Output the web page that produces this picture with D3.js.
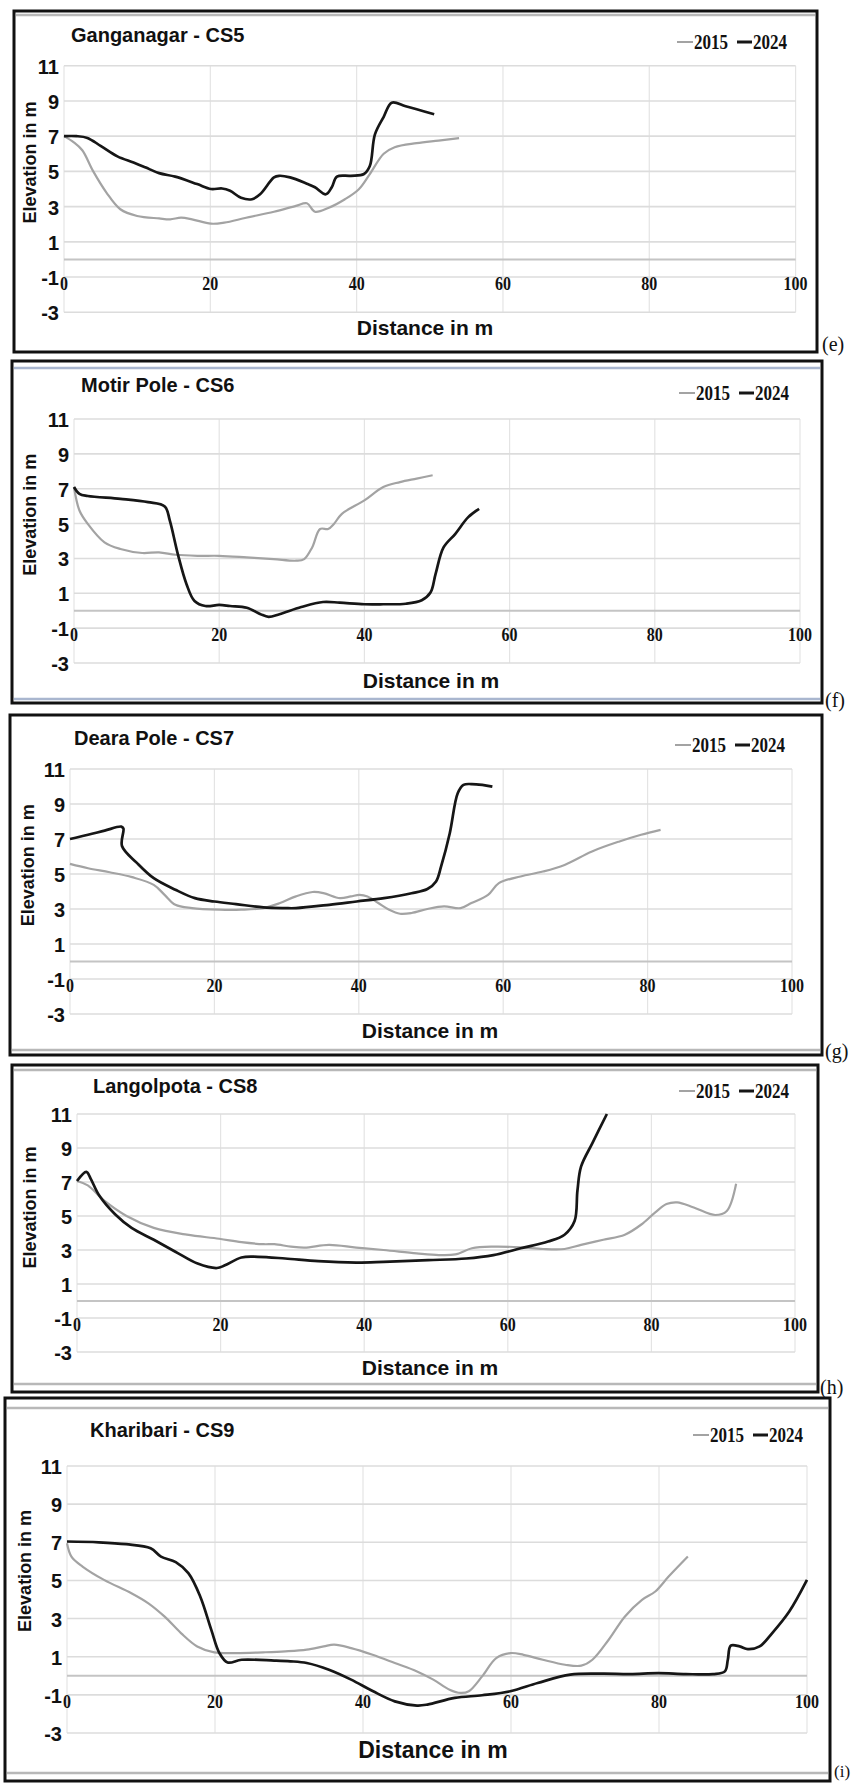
<!DOCTYPE html>
<html>
<head>
<meta charset="utf-8">
<script src="https://cdn.jsdelivr.net/npm/d3@7"></script>
<style>
  body { margin: 0; background: #fff; }
  svg { display: block; }
</style>
</head>
<body>
<div id="container"></div>
<script>
// chart data: [distance m, elevation m]
var titles = ["Ganganagar - CS5", "Motir Pole - CS6", "Deara Pole - CS7", "Langolpota - CS8", "Kharibari - CS9"];
var panelTags = ["(e)", "(f)", "(g)", "(h)", "(i)"];
var years = ["2015", "2024"];
var xTicks = [0, 20, 40, 60, 80, 100];
var yTicks = [11, 9, 7, 5, 3, 1, -1, -3];

var cs5_2015 = [[0,7.0],[1.3,6.66],[2.5,6.2],[4,5.0],[5.8,3.8],[7.7,2.85],[10,2.47],[13,2.33],[14.5,2.28],[16,2.37],[17.5,2.28],[20.1,2.03],[21.9,2.09],[24.9,2.37],[28.7,2.71],[31.7,3.04],[33.2,3.19],[34.3,2.71],[36.2,2.94],[38.4,3.42],[40.3,3.99],[41.8,4.85],[43.7,6.0],[45.2,6.37],[48.2,6.6],[51.2,6.75],[54.0,6.89]];
var cs5_2024 = [[0,7.0],[1.7,7.0],[3.2,6.9],[5,6.45],[7.3,5.85],[9.5,5.5],[11.1,5.23],[13,4.9],[15.2,4.7],[18.2,4.28],[20.1,4.0],[21.6,4.03],[22.7,3.9],[24.2,3.5],[25.7,3.42],[26.8,3.7],[28.7,4.66],[29.4,4.75],[30.9,4.66],[33.2,4.3],[34.3,4.1],[35.8,3.7],[36.6,4.1],[37.3,4.7],[39.2,4.75],[41.0,4.85],[41.8,5.3],[42.5,7.1],[43.7,8.1],[44.8,8.9],[46.7,8.7],[50.6,8.24]];

var cs6_2015 = [[0,7.1],[0.75,5.75],[1.9,4.98],[4.2,3.92],[6.4,3.54],[9.4,3.31],[11.7,3.35],[14,3.21],[17,3.15],[20,3.15],[23.8,3.06],[27.5,2.96],[30.6,2.87],[31.7,2.96],[32.8,3.63],[33.9,4.69],[35,4.69],[35.8,4.98],[36.9,5.56],[40,6.33],[42.6,7.1],[44.9,7.38],[47.2,7.58],[49.4,7.77]];
var cs6_2024 = [[0,7.1],[0.75,6.7],[1.9,6.58],[6.4,6.42],[10.2,6.23],[12.5,5.98],[13.2,5.17],[14.3,3.25],[15.5,1.52],[16.6,0.56],[18.1,0.27],[20,0.33],[21.5,0.27],[23.8,0.17],[25.7,-0.2],[26.8,-0.35],[28.3,-0.2],[31.3,0.21],[34.3,0.5],[36.6,0.46],[40,0.37],[42.6,0.37],[45.7,0.4],[47.9,0.6],[49.1,1.04],[49.8,2.1],[50.9,3.63],[52.5,4.4],[54.3,5.37],[55.8,5.85]];

var cs7_2015 = [[0,5.58],[2.5,5.33],[5.5,5.1],[8.6,4.82],[11.6,4.38],[13.1,3.81],[14.6,3.24],[16.9,3.05],[20.7,2.96],[23.7,2.96],[26.8,3.05],[29.1,3.34],[31.3,3.72],[33.6,3.97],[35.1,3.91],[37.4,3.62],[38.9,3.72],[40.1,3.81],[41.2,3.72],[42.7,3.34],[44.2,2.96],[45.7,2.73],[47.3,2.77],[49.5,3.0],[51.8,3.15],[54.1,3.05],[55.6,3.34],[57.9,3.81],[59.4,4.48],[62.4,4.86],[65.5,5.14],[68.5,5.52],[72.3,6.29],[76.1,6.86],[79.1,7.24],[81.8,7.52]];
var cs7_2024 = [[0,7.0],[2.5,7.24],[4.8,7.48],[7.1,7.71],[7.4,7.6],[7.2,6.6],[9.3,5.62],[11.6,4.76],[14.6,4.1],[17.3,3.62],[20,3.43],[23,3.28],[26.8,3.09],[29.8,3.05],[31.3,3.05],[35.9,3.24],[39.7,3.43],[43.5,3.62],[47.3,3.9],[49.5,4.14],[50.7,4.57],[51.4,5.43],[52.6,7.33],[53.7,9.61],[54.5,10.09],[55.6,10.14],[57.1,10.09],[58.5,9.99]];

var cs8_2015 = [[0,7.06],[1.5,6.8],[3.8,5.9],[6.9,5.0],[10.7,4.3],[15.3,3.9],[19.8,3.66],[22.9,3.46],[26,3.34],[27.5,3.34],[29.8,3.2],[31.7,3.14],[35.1,3.3],[38.9,3.14],[42.7,3.0],[47.3,2.8],[50.4,2.7],[52.7,2.74],[55,3.1],[58,3.2],[61.8,3.16],[64.9,3.06],[67.9,3.06],[70.2,3.3],[73.3,3.6],[76.3,3.9],[78.6,4.5],[80.5,5.2],[82.1,5.7],[83.6,5.8],[85.9,5.5],[88.9,5.06],[90.5,5.3],[91.8,6.9]];
var cs8_2024 = [[0,7.06],[1.3,7.6],[1.9,7.2],[3.1,6.2],[5.3,5.1],[7.6,4.3],[10.7,3.6],[13.7,2.9],[16.8,2.2],[19.5,1.94],[20.6,2.1],[22.9,2.56],[25.2,2.6],[29,2.5],[33.6,2.34],[38.9,2.26],[42.7,2.3],[48.9,2.4],[54.2,2.5],[58,2.7],[61.8,3.1],[65.6,3.5],[67.9,3.9],[69.3,4.7],[69.7,6.5],[70.2,7.9],[71.8,9.3],[73.8,11]];

var cs9_2015 = [[0,6.95],[0.6,6.25],[2.1,5.73],[5,5.03],[8.7,4.33],[11,3.8],[13.2,3.1],[15.4,2.24],[17.6,1.54],[19.9,1.23],[22.8,1.19],[26.5,1.23],[29.5,1.28],[32.4,1.37],[34.7,1.54],[36.1,1.63],[38.4,1.45],[41.3,1.1],[44.3,0.67],[47.3,0.23],[49.5,-0.2],[51.7,-0.73],[53.2,-0.9],[54.3,-0.81],[56.1,-0.03],[58,0.93],[59.9,1.19],[61.7,1.1],[64.3,0.84],[67.3,0.58],[69.5,0.53],[71,0.84],[73.2,1.89],[75.4,3.11],[77.7,3.98],[79.5,4.42],[81.3,5.2],[83.9,6.25]];
var cs9_2024 = [[0,7.04],[4.3,7.0],[8,6.9],[11.3,6.69],[12.7,6.25],[14.7,5.96],[16.4,5.38],[18,4.16],[19.5,2.41],[20.6,1.19],[21.7,0.7],[23.6,0.84],[28,0.8],[30.2,0.76],[32.4,0.67],[35.4,0.32],[38.4,-0.2],[41.3,-0.8],[44.3,-1.34],[47.3,-1.56],[48.7,-1.51],[52.4,-1.16],[56.1,-1.02],[59.9,-0.81],[63.6,-0.38],[68,0.06],[72.4,0.11],[76.1,0.09],[79.9,0.14],[83.6,0.09],[87.3,0.09],[88.9,0.23],[89.3,0.84],[89.7,1.58],[90.9,1.54],[92,1.4],[93.6,1.54],[95.3,2.24],[97.6,3.37],[100,5.03]];

var series2015 = [cs5_2015, cs6_2015, cs7_2015, cs8_2015, cs9_2015];
var series2024 = [cs5_2024, cs6_2024, cs7_2024, cs8_2024, cs9_2024];

// page layout of the five framed panels (pixels)
var panels = [
  { box: [14, 11, 817, 352],  innerTop: 15,   innerBottom: null, innerColor: "#b8b8b8",
    plot: [64, 65.7, 795.6, 312.3], title: [71, 42],  legend: [677, 49],  xlab: [425, 335],  ylabX: 30, tag: [822, 351] },
  { box: [12, 361, 822, 703], innerTop: 368,  innerBottom: 699, innerColor: "#a9b6cf",
    plot: [74, 419, 800, 663],      title: [81, 392], legend: [679, 400], xlab: [431, 688],  ylabX: 30, tag: [825, 707] },
  { box: [10, 715, 822, 1055], innerTop: null, innerBottom: 1050, innerColor: "#b8b8b8",
    plot: [70, 769, 792, 1014],     title: [74, 745], legend: [675, 752], xlab: [430, 1038], ylabX: 28, tag: [825, 1058] },
  { box: [12, 1065, 818, 1392], innerTop: 1070, innerBottom: 1384, innerColor: "#b8b8b8",
    plot: [77, 1114, 795, 1352],    title: [93, 1093], legend: [679, 1098], xlab: [430, 1375], ylabX: 30, tag: [820, 1394] },
  { box: [5, 1398, 830, 1781], innerTop: 1408, innerBottom: 1773, innerColor: "#b8b8b8",
    plot: [67, 1466, 807, 1733],    title: [90, 1437], legend: [693, 1442], xlab: [433, 1758], ylabX: 25, tag: [834, 1777], xlabSize: 23 }
];

var W = 855, H = 1783;
var sans = "'Liberation Sans', Arial, Helvetica, sans-serif";
var serif = "'Liberation Serif', 'Times New Roman', serif";

var svg = d3.select("div#container")
  .append("svg")
  .attr("width", W)
  .attr("height", H)
  .attr("viewBox", `0 0 ${W} ${H}`);

svg.append("rect").attr("width", W).attr("height", H).attr("fill", "#fff");

// serif text in the figure is drawn tall and narrow
function tallText(g, x, y, str, size, anchor) {
  return g.append("g")
    .attr("transform", "translate(" + x + "," + y + ") scale(1,1.22)")
    .append("text")
    .attr("text-anchor", anchor || "start")
    .attr("font-family", serif)
    .attr("font-weight", "bold")
    .attr("font-size", size)
    .attr("fill", "#111")
    .text(str);
}

panels.forEach(function(p, i) {
  var g = svg.append("g").attr("class", "panel");

  // frame
  g.append("rect")
    .attr("x", p.box[0]).attr("y", p.box[1])
    .attr("width", p.box[2] - p.box[0]).attr("height", p.box[3] - p.box[1])
    .attr("fill", "none").attr("stroke", "#111").attr("stroke-width", 3);
  if (p.innerTop != null)
    g.append("line").attr("x1", p.box[0] + 2).attr("x2", p.box[2] - 2)
      .attr("y1", p.innerTop).attr("y2", p.innerTop)
      .attr("stroke", p.innerColor).attr("stroke-width", 2.5);
  if (p.innerBottom != null)
    g.append("line").attr("x1", p.box[0] + 2).attr("x2", p.box[2] - 2)
      .attr("y1", p.innerBottom).attr("y2", p.innerBottom)
      .attr("stroke", p.innerColor).attr("stroke-width", 2.5);

  var x = d3.scaleLinear().domain([0, 100]).range([p.plot[0], p.plot[2]]);
  var y = d3.scaleLinear().domain([-3, 11]).range([p.plot[3], p.plot[1]]);

  // grid
  g.append("g").selectAll("line").data(xTicks).enter().append("line")
    .attr("x1", function(d) { return x(d); }).attr("x2", function(d) { return x(d); })
    .attr("y1", y(11)).attr("y2", y(-3))
    .attr("stroke", "#e4e4e4").attr("stroke-width", 1.2);
  g.append("g").selectAll("line").data(yTicks).enter().append("line")
    .attr("x1", x(0)).attr("x2", x(100))
    .attr("y1", function(d) { return y(d); }).attr("y2", function(d) { return y(d); })
    .attr("stroke", "#dcdcdc").attr("stroke-width", 1.6);
  g.append("line")
    .attr("x1", x(0)).attr("x2", x(100)).attr("y1", y(0)).attr("y2", y(0))
    .attr("stroke", "#c4c4c4").attr("stroke-width", 2);

  // y tick labels
  g.append("g").selectAll("text").data(yTicks).enter().append("text")
    .attr("x", p.plot[0] - 5)
    .attr("y", function(d) { return y(d) + 8; })
    .attr("text-anchor", "end")
    .attr("font-family", sans).attr("font-weight", "bold").attr("font-size", 20)
    .attr("fill", "#111")
    .text(function(d) { return d; });

  // x tick labels sit just under the -1 line
  xTicks.forEach(function(t) {
    tallText(g, x(t), y(-1) + 13, t, 16, "middle");
  });

  // series
  var line = d3.line()
    .x(function(d) { return x(d[0]); })
    .y(function(d) { return y(d[1]); })
    .curve(d3.curveCatmullRom.alpha(0.5));

  g.append("path").datum(series2015[i])
    .attr("d", line).attr("fill", "none")
    .attr("stroke", "#a3a3a3").attr("stroke-width", 2.2)
    .attr("stroke-linejoin", "round");
  g.append("path").datum(series2024[i])
    .attr("d", line).attr("fill", "none")
    .attr("stroke", "#161616").attr("stroke-width", 2.7)
    .attr("stroke-linejoin", "round");

  // title
  g.append("text")
    .attr("x", p.title[0]).attr("y", p.title[1])
    .attr("font-family", sans).attr("font-weight", "bold").attr("font-size", 20)
    .attr("fill", "#111")
    .text(titles[i]);

  // legend
  var lg = g.append("g").attr("transform", "translate(" + p.legend[0] + "," + p.legend[1] + ")");
  lg.append("line").attr("x1", 0).attr("x2", 16).attr("y1", -7).attr("y2", -7)
    .attr("stroke", "#a3a3a3").attr("stroke-width", 2);
  tallText(lg, 17, 0, years[0], 17);
  lg.append("line").attr("x1", 60).attr("x2", 75).attr("y1", -7).attr("y2", -7)
    .attr("stroke", "#161616").attr("stroke-width", 3);
  tallText(lg, 76, 0, years[1], 17);

  // axis titles
  g.append("text")
    .attr("x", p.xlab[0]).attr("y", p.xlab[1])
    .attr("text-anchor", "middle")
    .attr("font-family", sans).attr("font-weight", "bold").attr("font-size", p.xlabSize || 21)
    .attr("fill", "#111")
    .text("Distance in m");
  g.append("text")
    .attr("transform", "translate(" + p.ylabX + "," + y(5.5) + ") rotate(-90)")
    .attr("text-anchor", "middle")
    .attr("dominant-baseline", "central")
    .attr("font-family", sans).attr("font-weight", "bold").attr("font-size", 18)
    .attr("fill", "#111")
    .text("Elevation in m");

  // panel letter
  svg.append("text")
    .attr("x", p.tag[0]).attr("y", p.tag[1])
    .attr("font-family", serif).attr("font-size", i === 4 ? 17 : 20)
    .attr("fill", "#111")
    .text(panelTags[i]);
});
</script>
</body>
</html>
